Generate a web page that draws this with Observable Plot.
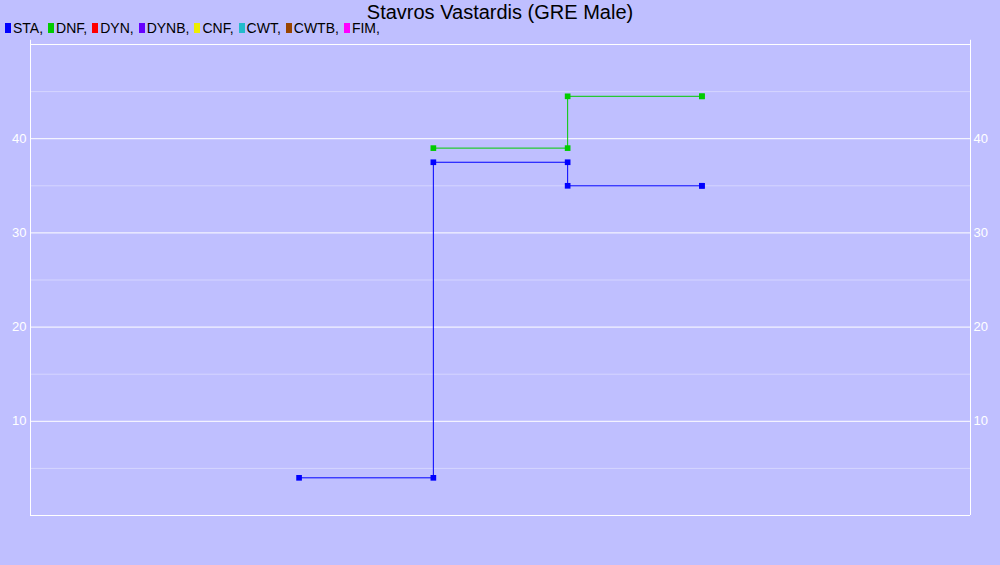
<!DOCTYPE html>
<html>
<head>
<meta charset="utf-8">
<script src="https://cdn.jsdelivr.net/npm/d3@7"></script>
<script src="https://cdn.jsdelivr.net/npm/@observablehq/plot@0.6"></script>
<style>
  html, body { margin: 0; padding: 0; background: #BFBFFF; }
  #wrap { position: relative; width: 1000px; height: 565px; background: #BFBFFF; font-family: "Liberation Sans", Arial, sans-serif; }
  #title { position: absolute; left: 0; top: 2px; width: 1000px; text-align: center; font-size: 20px; color: #000; line-height: 20px; }
  #legend { position: absolute; left: 5px; top: 22px; font-size: 14px; color: #000; line-height: 13px; white-space: nowrap; }
  #legend .item { display: inline-block; margin-right: 5px; }
  #legend .sw { display: inline-block; width: 6px; height: 10px; margin-right: 2px; vertical-align: 0px; }
  #chart { position: absolute; left: 0; top: 0; }
</style>
</head>
<body>
<div id="wrap">
  <div id="chart"></div>
  <div id="title"></div>
  <div id="legend"></div>
</div>
<script>
const title = "Stavros Vastardis (GRE Male)";
const categories = ["STA", "DNF", "DYN", "DYNB", "CNF", "CWT", "CWTB", "FIM"];
const categoryColors = ["#0000FF", "#00CC00", "#FF0000", "#6600FF", "#EEEE00", "#22BBCC", "#994400", "#FF00FF"];

// series (x = position index, y = value), drawn as step-after lines
const staX = [2, 3, 4, 5];
const staY = [4, 37.5, 35, 35];
const dnfX = [3, 4, 5];
const dnfY = [39, 44.5, 44.5];

const yTicks = [10, 20, 30, 40];
const yMajor = [0, 10, 20, 30, 40, 50];
const yMinor = [5, 15, 25, 35, 45];

document.getElementById("title").textContent = title;
const legend = document.getElementById("legend");
categories.forEach((c, i) => {
  const it = document.createElement("span");
  it.className = "item";
  const sw = document.createElement("span");
  sw.className = "sw";
  sw.style.background = categoryColors[i];
  it.appendChild(sw);
  it.appendChild(document.createTextNode(c + ","));
  legend.appendChild(it);
});

function series(name, xs, ys) {
  return xs.map((x, i) => ({name, x, y: ys[i]}));
}
function corners(name, xs, ys) {
  const out = [];
  xs.forEach((x, i) => {
    if (i > 0) out.push({name, x, y: ys[i - 1]});
    out.push({name, x, y: ys[i]});
  });
  return out;
}
const sta = series("STA", staX, staY);
const dnf = series("DNF", dnfX, dnfY);
const staPts = corners("STA", staX, staY);
const dnfPts = corners("DNF", dnfX, dnfY);
const col = n => categoryColors[categories.indexOf(n)];

const chart = Plot.plot({
  width: 1000,
  height: 565,
  marginTop: 44,
  marginBottom: 50,
  marginLeft: 30,
  marginRight: 30,
  style: {background: "transparent", color: "white", fontSize: "13px", fontFamily: "Liberation Sans, Arial, sans-serif"},
  x: {domain: [0, 7], axis: null},
  y: {domain: [0, 50], axis: null},
  marks: [
    Plot.ruleY(yMinor, {stroke: "white", strokeOpacity: 0.35, strokeWidth: 1}),
    Plot.ruleY(yMajor, {stroke: "white", strokeWidth: 1}),
    Plot.ruleX([0, 7], {y1: 0, y2: 50.45, stroke: "white", strokeWidth: 1}),
    Plot.axisY(yTicks, {anchor: "left", tickSize: 0, tickPadding: 4, fill: "white", stroke: null, label: null}),
    Plot.axisY(yTicks, {anchor: "right", tickSize: 0, tickPadding: 3, fill: "white", stroke: null, label: null}),
    Plot.line(sta, {x: "x", y: "y", stroke: col("STA"), strokeWidth: 1, curve: "step-after"}),
    Plot.line(dnf, {x: "x", y: "y", stroke: col("DNF"), strokeWidth: 1, curve: "step-after"}),
    Plot.dot(staPts, {x: "x", y: "y", symbol: "square", r: 3.2, fill: col("STA"), stroke: null}),
    Plot.dot(dnfPts, {x: "x", y: "y", symbol: "square", r: 3.2, fill: col("DNF"), stroke: null})
  ]
});
document.getElementById("chart").appendChild(chart);
</script>
</body>
</html>
